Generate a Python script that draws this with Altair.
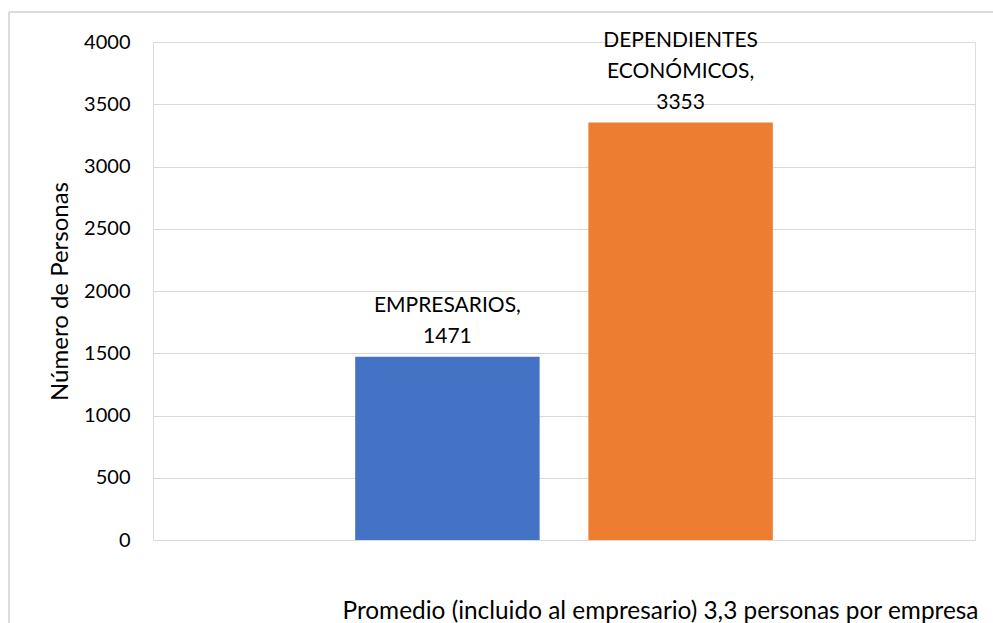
import altair as alt
import pandas as pd

categories = ["EMPRESARIOS", "DEPENDIENTES ECONÓMICOS"]
values = [1471, 3353]
label_lines = [["EMPRESARIOS,"], ["DEPENDIENTES", "ECONÓMICOS,"]]
colors = ["#4472C4", "#ED7D31"]
y_ticks = [0, 500, 1000, 1500, 2000, 2500, 3000, 3500, 4000]
x_title = "Promedio (incluido al empresario) 3,3 personas por empresa"
y_title = "Número de Personas"

FONT = "Lato"

df = pd.DataFrame({"cat": categories, "val": values})

# long table: one row per label line, k = position counted from the bottom line
rows = []
for c, v, lines in zip(categories, values, label_lines):
    all_lines = lines + [str(v)]
    n = len(all_lines)
    for i, t in enumerate(all_lines):
        rows.append({"cat": c, "val": v, "line": t, "k": n - 1 - i})
lab = pd.DataFrame(rows)

x_enc = alt.X(
    "cat:N",
    sort=categories,
    scale=alt.Scale(paddingInner=0.209, paddingOuter=0.867),
    axis=alt.Axis(
        title=x_title, labels=False, ticks=False, domain=False,
        titleFont=FONT, titleFontSize=24.4, titleFontWeight="normal", titleColor="#000000",
        titleAnchor="start", titleAlign="left", titleX=189, titleY=78, titleBaseline="alphabetic",
    ),
)

y_enc = alt.Y(
    "val:Q",
    scale=alt.Scale(domain=[0, 4000], nice=False),
    axis=alt.Axis(
        values=y_ticks, format="d", title=y_title, domain=False, ticks=False,
        labelFont=FONT, labelFontSize=20, labelColor="#000000", labelPadding=23,
        titleFont=FONT, titleFontSize=24, titleFontWeight="normal", titleColor="#000000",
        titleX=-86, titleAnchor="middle", titleBaseline="alphabetic",
        gridColor="#D9D9D9", gridWidth=1.2,
    ),
)

bars = alt.Chart(df).mark_bar().encode(
    x=x_enc,
    y=y_enc,
    color=alt.Color("cat:N", scale=alt.Scale(domain=categories, range=colors), legend=None),
)

text_layers = []
for k in range(3):
    text_layers.append(
        alt.Chart(lab).transform_filter(alt.datum.k == k).mark_text(
            baseline="alphabetic", align="center", dy=-14 - 31 * k,
            font=FONT, fontSize=21, color="#000000",
        ).encode(x=alt.X("cat:N", sort=categories), y="val:Q", text="line:N")
    )

frame_left = alt.Chart(df).mark_rule(color="#D9D9D9", strokeWidth=1.5).encode(
    x=alt.value(-144), y=alt.value(-30), y2=alt.value(700)
)
frame_top = alt.Chart(df).mark_rule(color="#D9D9D9", strokeWidth=1.5).encode(
    x=alt.value(-144), x2=alt.value(900), y=alt.value(-30)
)

chart = alt.layer(frame_left, frame_top, bars, *text_layers).properties(
    width=822, height=498,
    autosize=alt.AutoSizeParams(type="none"),
    padding={"left": 153, "top": 42, "right": 18, "bottom": 83},
).configure_view(stroke=None).configure(background="white")

chart.save("out.html", embed_options={"renderer": "svg", "actions": False})
